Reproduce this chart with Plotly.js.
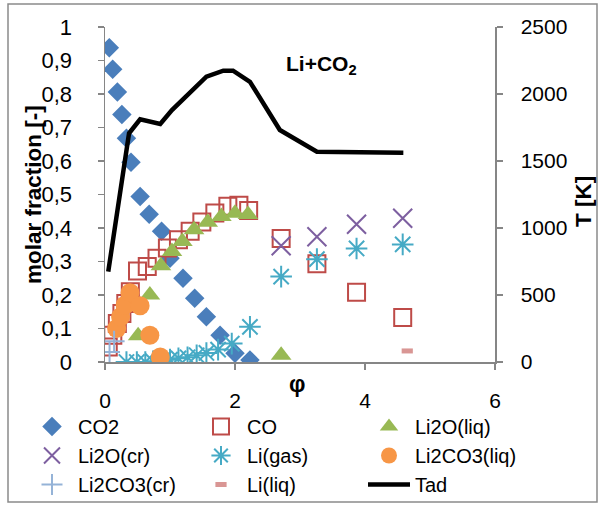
<!DOCTYPE html>
<html>
<head>
<meta charset="utf-8">
<script src="https://cdn.plot.ly/plotly-3.0.1.min.js"></script>
<style>html,body{margin:0;padding:0;background:#fff;}#chart{width:602px;height:506px;}</style>
</head>
<body>
<div id="chart"></div>
<script>
// ---- data ----
const co2X = [0.066, 0.118, 0.19, 0.26, 0.33, 0.40, 0.54, 0.68, 0.87, 1.0, 1.2, 1.38, 1.56, 1.77, 2.0, 2.23];
const co2Y = [0.938, 0.874, 0.806, 0.739, 0.668, 0.596, 0.494, 0.441, 0.39, 0.31, 0.25, 0.19, 0.135, 0.08, 0.026, 0.006];

const coX = [0.05, 0.12, 0.19, 0.26, 0.32, 0.39, 0.50, 0.65, 0.80, 0.96, 1.13, 1.31, 1.49, 1.69, 1.89, 2.06, 2.21, 2.71, 3.26, 3.87, 4.58];
const coY = [0.045, 0.08, 0.115, 0.145, 0.175, 0.21, 0.272, 0.285, 0.31, 0.34, 0.365, 0.39, 0.418, 0.445, 0.465, 0.468, 0.452, 0.369, 0.293, 0.208, 0.133];

const li2oLiqX = [0.51, 0.69, 0.86, 1.03, 1.19, 1.37, 1.58, 1.79, 2.0, 2.2, 2.71];
const li2oLiqY = [0.078, 0.2, 0.287, 0.33, 0.36, 0.395, 0.417, 0.434, 0.444, 0.44, 0.02];

const li2oCrX = [2.71, 3.26, 3.87, 4.58];
const li2oCrY = [0.347, 0.374, 0.411, 0.429];

const liGasX = [0.33, 0.49, 0.62, 0.74, 0.87, 1.0, 1.13, 1.27, 1.41, 1.56, 1.74, 1.95, 2.23, 2.71, 3.26, 3.87, 4.58];
const liGasY = [0.0, 0.0, 0.0, 0.002, 0.004, 0.007, 0.011, 0.014, 0.02, 0.027, 0.037, 0.055, 0.105, 0.255, 0.307, 0.339, 0.351];

const li2co3LiqX = [0.18, 0.24, 0.31, 0.385, 0.54, 0.69, 0.85];
const li2co3LiqY = [0.10, 0.135, 0.17, 0.207, 0.168, 0.08, 0.015];

const li2co3CrX = [0.07, 0.14];
const li2co3CrY = [0.03, 0.062];

const liLiqX = [4.65];
const liLiqY = [0.033];

const tadX = [0.05, 0.37, 0.54, 0.85, 1.03, 1.26, 1.56, 1.82, 1.97, 2.23, 2.69, 3.26, 3.87, 4.59];
const tadT = [674, 1707, 1811, 1776, 1880, 1993, 2129, 2174, 2174, 2091, 1731, 1569, 1566, 1562];

const yTicks = [0, 0.1, 0.2, 0.3, 0.4, 0.5, 0.6, 0.7, 0.8, 0.9, 1];
const y2Ticks = [0, 500, 1000, 1500, 2000, 2500];
const xTicks = [0, 2, 4, 6];

// ---- chart ----
const FONT = 'Liberation Sans, Arial, sans-serif';
const traces = [
  {name:'CO2', legend:'legend', x:co2X, y:co2Y, mode:'markers', type:'scatter',
   marker:{symbol:'diamond', size:15, color:'#4a7ebb', line:{width:0}}},
  {name:'CO', legend:'legend2', x:coX, y:coY, mode:'markers', type:'scatter',
   marker:{symbol:'square-open', size:17, color:'#be4b48', line:{width:2, color:'#be4b48'}}},
  {name:'Li2O(liq)', legend:'legend3', x:li2oLiqX, y:li2oLiqY, mode:'markers', type:'scatter',
   marker:{symbol:'triangle-up', size:18, color:'#98b954', line:{width:0}}},
  {name:'Li2O(cr)', legend:'legend', x:li2oCrX, y:li2oCrY, mode:'markers', type:'scatter',
   marker:{symbol:'x-thin-open', size:19, color:'#7d5fa0', line:{width:2, color:'#7d5fa0'}}},
  {name:'Li(gas)', legend:'legend2', x:liGasX, y:liGasY, mode:'markers', type:'scatter',
   marker:{symbol:'asterisk-open', size:18, color:'#46aac5', line:{width:2, color:'#46aac5'}}},
  {name:'Li2CO3(liq)', legend:'legend3', x:li2co3LiqX, y:li2co3LiqY, mode:'markers', type:'scatter',
   marker:{symbol:'circle', size:19, color:'#f79646', line:{width:0}}},
  {name:'Li2CO3(cr)', legend:'legend', x:li2co3CrX, y:li2co3CrY, mode:'markers', type:'scatter',
   marker:{symbol:'cross-thin-open', size:15, color:'#95b3d7', line:{width:2, color:'#95b3d7'}}},
  {name:'Li(liq)', legend:'legend2', x:liLiqX, y:liLiqY, mode:'markers', type:'scatter',
   marker:{symbol:'line-ew-open', size:8, color:'#d99694', line:{width:5, color:'#d99694'}}},
  {name:'Tad', legend:'legend3', x:tadX, y:tadT, mode:'lines', type:'scatter', yaxis:'y2',
   line:{color:'#000', width:4.5}}
];

const L = 105, R = 495, T = 27, B = 362;
const W = R - L, H = B - T;
const px = v => (v - L) / W;
const py = v => (B - v) / H;

const axisCommon = {
  showgrid:false, zeroline:false, showline:true, linecolor:'#868686', linewidth:1.5,
  ticks:'outside', ticklen:6, tickwidth:1.5, tickcolor:'#868686',
  tickfont:{family:FONT, size:21, color:'#000'}
};

function legendAt(left) {
  return {orientation:'v', x:px(left), xanchor:'left', y:py(407), yanchor:'top',
    itemwidth:42, tracegroupgap:0, bgcolor:'rgba(0,0,0,0)', borderwidth:0,
    font:{family:FONT, size:20, color:'#000'}};
}

const layout = {
  width:602, height:506,
  margin:{l:L, r:602-R, t:T, b:506-B, pad:0, autoexpand:false},
  paper_bgcolor:'#fff', plot_bgcolor:'#fff',
  separators:',.',
  showlegend:true,
  font:{family:FONT, color:'#000'},
  xaxis:Object.assign({}, axisCommon, {range:[0,6], tickvals:xTicks, ticklabelstandoff:13}),
  yaxis:Object.assign({}, axisCommon, {range:[0,1], tickvals:yTicks, ticklabelstandoff:21,
    tickfont:{family:FONT, size:22, color:'#000'}}),
  yaxis2:Object.assign({}, axisCommon, {range:[0,2500], tickvals:y2Ticks, overlaying:'y', side:'right', ticklabelstandoff:14}),
  legend:legendAt(26),
  legend2:legendAt(195),
  legend3:legendAt(363),
  annotations:[
    {text:'Li+CO<sub>2</sub>', xref:'paper', yref:'paper', x:px(321), y:py(65), showarrow:false,
     xanchor:'center', yanchor:'middle', font:{family:FONT, size:21, color:'#000', weight:'bold'}},
    {text:'φ', xref:'paper', yref:'paper', x:px(297), y:py(384), showarrow:false,
     xanchor:'center', yanchor:'middle', font:{family:FONT, size:23, color:'#000', weight:'bold'}},
    {text:'molar fraction [-]', xref:'paper', yref:'paper', x:px(33), y:py(195), showarrow:false, textangle:-90,
     xanchor:'center', yanchor:'middle', font:{family:FONT, size:22.5, color:'#000', weight:'bold'}},
    {text:'T [K]', xref:'paper', yref:'paper', x:px(584), y:py(202), showarrow:false, textangle:-90,
     xanchor:'center', yanchor:'middle', font:{family:FONT, size:22.5, color:'#000', weight:'bold'}}
  ],
  shapes:[
    {type:'rect', xref:'paper', yref:'paper', x0:px(8), x1:px(597), y0:py(502), y1:py(4),
     line:{color:'#8a8a8a', width:1.5}, fillcolor:'rgba(0,0,0,0)', layer:'below'}
  ]
};

Plotly.newPlot('chart', traces, layout, {displayModeBar:false, staticPlot:true});
</script>
</body>
</html>
